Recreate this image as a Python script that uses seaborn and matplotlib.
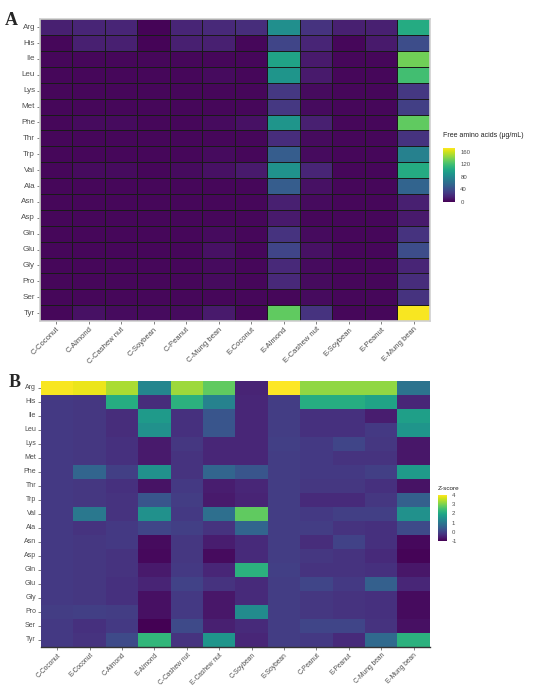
import numpy as np
import pandas as pd
import seaborn as sns
import matplotlib.pyplot as plt

amino_acids = ['Arg', 'His', 'Ile', 'Leu', 'Lys', 'Met', 'Phe', 'Thr', 'Trp',
               'Val', 'Ala', 'Asn', 'Asp', 'Gln', 'Glu', 'Gly', 'Pro', 'Ser', 'Tyr']

samples_a = ['C-Coconut', 'C-Almond', 'C-Cashew nut', 'C-Soybean', 'C-Peanut',
             'C-Mung bean', 'E-Coconut', 'E-Almond', 'E-Cashew nut', 'E-Soybean',
             'E-Peanut', 'E-Mung bean']

samples_b = ['C-Coconut', 'E-Coconut', 'C-Almond', 'E-Almond', 'C-Cashew nut',
             'E-Cashew nut', 'C-Soybean', 'E-Soybean', 'C-Peanut', 'E-Peanut',
             'C-Mung bean', 'E-Mung bean']

# free amino acids (ug/mL), one row per amino acid, columns in samples_a order
free_aa = [
    [15, 18, 18, 2, 18, 20, 22, 85, 25, 15, 15, 105],
    [3, 15, 15, 2, 15, 15, 3, 35, 18, 3, 12, 40],
    [3, 3, 3, 3, 3, 3, 3, 100, 12, 3, 3, 135],
    [3, 3, 3, 3, 3, 5, 3, 90, 12, 3, 3, 120],
    [3, 3, 3, 3, 3, 3, 3, 28, 5, 3, 3, 28],
    [3, 3, 3, 3, 3, 3, 3, 28, 5, 3, 3, 32],
    [3, 5, 5, 3, 3, 5, 8, 90, 15, 3, 3, 130],
    [3, 3, 3, 3, 3, 3, 3, 22, 5, 3, 3, 25],
    [3, 3, 3, 3, 3, 5, 3, 50, 5, 3, 3, 75],
    [3, 5, 5, 3, 5, 8, 12, 88, 18, 3, 3, 105],
    [3, 3, 3, 3, 3, 3, 3, 50, 8, 3, 3, 55],
    [3, 3, 3, 3, 3, 3, 3, 15, 5, 3, 3, 15],
    [3, 3, 3, 3, 3, 3, 3, 12, 3, 3, 3, 12],
    [3, 3, 3, 3, 3, 5, 3, 25, 5, 3, 3, 25],
    [3, 3, 3, 3, 3, 8, 3, 35, 8, 3, 3, 40],
    [3, 3, 3, 3, 3, 5, 3, 20, 5, 3, 3, 18],
    [3, 3, 3, 3, 3, 5, 3, 20, 5, 3, 3, 22],
    [3, 3, 3, 3, 3, 3, 3, 3, 5, 3, 3, 25],
    [3, 8, 5, 5, 5, 12, 3, 130, 25, 3, 3, 170],
]

# z-scores, one list per sample (samples_b order), values in amino_acids order
z_scores = [
    [4.0, -0.2, -0.2, -0.2, -0.2, -0.2, -0.2, -0.2, -0.2, -0.2, -0.2, -0.2, -0.2, -0.2, -0.2, -0.2, -0.15, -0.2, -0.2],
    [3.9, -0.25, -0.25, -0.25, -0.25, -0.25, 0.6, -0.25, -0.25, 1.0, -0.3, -0.25, -0.25, -0.25, -0.25, -0.25, -0.1, -0.35, -0.3],
    [3.4, 2.1, -0.4, -0.4, -0.35, -0.35, -0.1, -0.35, -0.3, -0.3, -0.2, -0.2, -0.3, -0.3, -0.35, -0.35, -0.15, -0.2, 0.1],
    [1.3, -0.4, 1.7, 1.5, -0.7, -0.7, 1.5, -0.8, 0.3, 1.5, 0.0, -0.9, -0.95, -0.7, -0.55, -0.85, -0.85, -1.05, 2.3],
    [3.3, 2.2, -0.35, -0.35, -0.25, -0.3, -0.3, -0.2, -0.15, -0.2, -0.1, -0.25, -0.25, -0.2, -0.05, -0.2, -0.2, 0.1, -0.3],
    [2.8, 1.2, 0.3, 0.3, -0.5, -0.5, 0.6, -0.65, -0.7, 0.8, -0.3, -0.65, -0.9, -0.5, -0.3, -0.75, -0.75, -0.6, 1.6],
    [-0.55, -0.5, -0.5, -0.5, -0.5, -0.5, 0.3, -0.5, -0.55, 2.8, 0.6, -0.45, -0.45, 2.2, -0.45, -0.45, 1.4, -0.45, -0.5],
    [4.05, -0.15, -0.15, -0.15, -0.1, -0.15, -0.15, -0.15, -0.15, -0.15, -0.15, -0.15, -0.15, -0.1, -0.15, -0.15, -0.15, -0.15, -0.15],
    [3.2, 2.1, -0.35, -0.35, -0.2, -0.2, -0.2, -0.25, -0.45, -0.2, -0.15, -0.4, -0.25, -0.3, 0.0, -0.25, -0.25, 0.0, -0.2],
    [3.2, 2.1, -0.35, -0.35, 0.0, -0.3, -0.2, -0.25, -0.45, -0.1, -0.3, -0.05, -0.3, -0.3, -0.2, -0.3, -0.3, 0.0, -0.45],
    [3.2, 1.9, -0.65, -0.2, -0.25, -0.3, -0.1, -0.35, -0.25, -0.1, -0.35, -0.35, -0.45, -0.35, 0.5, -0.35, -0.35, -0.3, 0.7],
    [0.9, -0.5, 1.8, 1.6, -0.75, -0.75, 1.7, -0.8, 0.5, 1.5, 0.1, -0.95, -1.0, -0.75, -0.5, -0.9, -0.9, -0.85, 2.2],
]

df_a = pd.DataFrame(free_aa, index=amino_acids, columns=samples_a)
df_b = pd.DataFrame(np.array(z_scores).T, index=amino_acids, columns=samples_b)

sns.set_theme(style='white')
plt.rcParams['font.family'] = ['Liberation Sans', 'DejaVu Sans']
plt.rcParams['axes.unicode_minus'] = False
label_color = '#4d4d4d'

fig = plt.figure(figsize=(5.5, 6.86), dpi=100)

# panel A
ax_a = fig.add_axes([0.0727, 0.532, 0.709, 0.440])
cax_a = fig.add_axes([0.806, 0.7055, 0.022, 0.079])
sns.heatmap(df_a, ax=ax_a, cbar_ax=cax_a, cmap='viridis', vmin=0, vmax=172,
            linewidths=0.4, linecolor='#1a1a1a', xticklabels=True, yticklabels=True,
            cbar_kws={'ticks': [0, 40, 80, 120, 160]})
for sp in ax_a.spines.values():
    sp.set_visible(True)
    sp.set_color('#d0d0d0')
    sp.set_linewidth(1.2)

# panel B
ax_b = fig.add_axes([0.0745, 0.0569, 0.707, 0.388])
cax_b = fig.add_axes([0.796, 0.2114, 0.0164, 0.067])
sns.heatmap(df_b, ax=ax_b, cbar_ax=cax_b, cmap='viridis', vmin=-1.05, vmax=4.05,
            xticklabels=True, yticklabels=True,
            cbar_kws={'ticks': [-1, 0, 1, 2, 3, 4]})
ax_b.spines['bottom'].set_visible(True)
ax_b.spines['bottom'].set_color('#333333')
ax_b.spines['bottom'].set_linewidth(1.0)

for ax, ysize, xsize in ((ax_a, 5.8, 5.5), (ax_b, 5.0, 4.8)):
    ax.set_xlabel('')
    ax.set_ylabel('')
    ax.tick_params(axis='both', which='both', length=2, width=0.5, color=label_color,
                   labelcolor=label_color, pad=1.5, bottom=True, left=True)
    ax.tick_params(axis='y', labelsize=ysize)
    ax.tick_params(axis='x', labelsize=xsize)
    ax.set_yticklabels(ax.get_yticklabels(), rotation=0)
    ax.set_xticklabels(ax.get_xticklabels(), rotation=45, ha='right',
                       rotation_mode='anchor')
    cbar = ax.collections[0].colorbar
    cbar.outline.set_visible(False)
    cbar.ax.tick_params(labelsize=4.3, length=1.5, width=0.4, color='white',
                        labelcolor=label_color, pad=2)

fig.text(0.806, 0.797, 'Free amino acids (\u03bcg/mL)', fontsize=5.0,
         color='#222222', ha='left', va='bottom')
fig.text(0.796, 0.284, 'Z-score', fontsize=4.6, color='#222222',
         ha='left', va='bottom')

fig.text(0.008, 0.982, 'A', fontsize=13, fontweight='bold',
         family='Liberation Serif', va='top')
fig.text(0.015, 0.455, 'B', fontsize=13, fontweight='bold',
         family='Liberation Serif', va='top')

fig.savefig('out.png', dpi=100)
